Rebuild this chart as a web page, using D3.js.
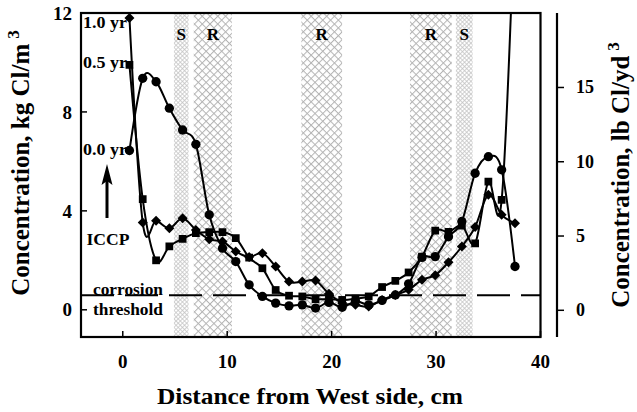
<!DOCTYPE html>
<html>
<head>
<meta charset="utf-8">
<script src="https://cdn.jsdelivr.net/npm/d3@7"></script>
<style>
  body { margin: 0; background: #fff; }
  text { font-family: "Liberation Serif", "Times New Roman", serif; font-weight: bold; fill: #000; }
</style>
</head>
<body>
<div id="grafico"></div>
<script>
// distance from west side (cm) and chloride concentration (kg Cl/m3)
const distance = [0.64, 1.91, 3.19, 4.46, 5.73, 7.00, 8.28, 9.55, 10.82, 12.10, 13.37, 14.64, 15.92, 17.19, 18.46,
                  19.74, 21.01, 22.28, 23.55, 24.83, 26.10, 27.37, 28.65, 29.92, 31.19, 32.47, 33.74, 35.01, 36.28, 37.56];
const conc00 = [6.44, 9.36, 9.22, 8.15, 7.27, 6.69, 3.84, 2.49, 1.95, 1.01, 0.54, 0.27, 0.16, 0.20, 0.07,
                0.30, 0.10, 0.35, 0.20, 0.38, 0.60, 1.05, 2.12, 2.15, 2.95, 3.57, 5.52, 6.19, 5.66, 1.75];
const conc05 = [9.90, 4.47, 2.00, 2.56, 2.87, 3.10, 3.14, 3.14, 2.90, 2.11, 1.68, 0.80, 0.57, 0.54, 0.43,
                0.43, 0.40, 0.45, 0.54, 0.92, 1.17, 1.51, 2.15, 3.20, 3.15, 3.40, 2.69, 5.18, 4.44, 16.5];
const conc10 = [11.8, 3.53, 3.60, 3.30, 3.70, 3.23, 2.85, 2.76, 2.36, 2.13, 2.29, 1.75, 1.14, 1.14, 1.18,
                0.65, 0.27, 0.20, 0.13, 0.40, 0.60, 0.81, 1.21, 1.40, 1.92, 2.56, 3.35, 4.65, 3.84, 3.50];
const seriesLabels = ["0.0 yr", "0.5 yr", "1.0 yr"];

// saw-cut (S) and reinforcement (R) zones, cm
const zoneLabels = ["S", "R", "R", "R", "S"];
const zoneStart = [4.9, 6.8, 17.1, 27.5, 31.9];
const zoneEnd = [6.3, 10.45, 21.0, 31.5, 33.5];

const threshold = 0.59;
const xTicks = [0, 10, 20, 30, 40];
const leftTicks = [0, 4, 8, 12];
const rightTicks = [0, 5, 10, 15];
const lbFactor = 1.665;

const width = 637, height = 412;
const svg = d3.select("#grafico").append("svg")
    .attr("width", width)
    .attr("height", height);

const x = d3.scaleLinear().domain([-4, 40]).range([81, 540.5]);
const y = d3.scaleLinear().domain([-1.1, 12]).range([337, 13]);
const yRight = d3.scaleLinear().domain([-1.1 * lbFactor, 12 * lbFactor]).range([337, 13]);

const defs = svg.append("defs");
function hatch(id, size, color, sw) {
    const p = defs.append("pattern")
        .attr("id", id)
        .attr("width", size).attr("height", size)
        .attr("patternUnits", "userSpaceOnUse")
        .attr("patternTransform", "rotate(45)");
    p.append("rect").attr("width", size).attr("height", size).attr("fill", "#fff");
    p.append("line").attr("x1", 0).attr("y1", 0).attr("x2", size).attr("y2", 0)
        .attr("stroke", color).attr("stroke-width", sw);
    p.append("line").attr("x1", 0).attr("y1", 0).attr("x2", 0).attr("y2", size)
        .attr("stroke", color).attr("stroke-width", sw);
}
hatch("hatchR", 5.5, "#b4b4b4", 2);
hatch("hatchS", 3, "#c4c4c4", 1.5);

defs.append("clipPath").attr("id", "plotClip")
    .append("rect")
    .attr("x", x.range()[0]).attr("y", y.range()[1])
    .attr("width", x.range()[1] - x.range()[0])
    .attr("height", y.range()[0] - y.range()[1]);

// zones
svg.selectAll(".zone")
    .data(zoneLabels)
    .enter()
    .append("rect")
    .attr("class", "zone")
    .attr("x", (d, i) => x(zoneStart[i]))
    .attr("y", y.range()[1])
    .attr("width", (d, i) => x(zoneEnd[i]) - x(zoneStart[i]))
    .attr("height", y.range()[0] - y.range()[1])
    .attr("fill", d => d === "S" ? "url(#hatchS)" : "url(#hatchR)");

svg.selectAll(".zone-label")
    .data(zoneLabels)
    .enter()
    .append("text")
    .attr("x", (d, i) => x((zoneStart[i] + zoneEnd[i]) / 2))
    .attr("y", 40)
    .attr("text-anchor", "middle")
    .attr("font-size", "17px")
    .text(d => d);

// corrosion threshold
svg.append("line")
    .attr("x1", x.range()[0]).attr("x2", x.range()[1])
    .attr("y1", y(threshold)).attr("y2", y(threshold))
    .attr("stroke", "#000")
    .attr("stroke-width", 2)
    .attr("stroke-dasharray", "33,11");

// series
const line = d3.line()
    .x(d => x(d[0]))
    .y(d => y(d[1]))
    .curve(d3.curveCatmullRom.alpha(0));

const allSeries = [conc00, conc05, conc10];
const symbols = [d3.symbolCircle, d3.symbolSquare, d3.symbolSquare];
const symSizes = [68, 60, 50];

const plot = svg.append("g").attr("clip-path", "url(#plotClip)");
allSeries.forEach((vals, k) => {
    const pts = distance.map((d, i) => [d, vals[i]]);
    plot.append("path")
        .datum(pts)
        .attr("fill", "none")
        .attr("stroke", "#000")
        .attr("stroke-width", 2)
        .attr("d", line);
    plot.selectAll(".m" + k)
        .data(pts)
        .enter()
        .append("path")
        .attr("class", "m" + k)
        .attr("d", d3.symbol().type(symbols[k]).size(symSizes[k]))
        .attr("transform", d => `translate(${x(d[0])},${y(d[1])})` + (k === 2 ? " rotate(45)" : ""))
        .attr("fill", "#000");
});

// frame
svg.append("rect")
    .attr("x", x.range()[0]).attr("y", y.range()[1])
    .attr("width", x.range()[1] - x.range()[0])
    .attr("height", y.range()[0] - y.range()[1])
    .attr("fill", "none")
    .attr("stroke", "#000")
    .attr("stroke-width", 2.2);

// bottom axis (ticks inside)
const xAxis = svg.append("g");
xAxis.selectAll("line")
    .data(xTicks)
    .enter()
    .append("line")
    .attr("x1", d => x(d)).attr("x2", d => x(d))
    .attr("y1", 337).attr("y2", 331)
    .attr("stroke", "#000").attr("stroke-width", 1.5);
xAxis.selectAll("text")
    .data(xTicks)
    .enter()
    .append("text")
    .attr("x", d => x(d))
    .attr("y", 368)
    .attr("text-anchor", "middle")
    .attr("font-size", "19px")
    .text(d => d);

// left axis
const yAxis = svg.append("g");
yAxis.selectAll("line")
    .data(leftTicks)
    .enter()
    .append("line")
    .attr("x1", 81).attr("x2", 87)
    .attr("y1", d => y(d)).attr("y2", d => y(d))
    .attr("stroke", "#000").attr("stroke-width", 1.5);
yAxis.selectAll("text")
    .data(leftTicks)
    .enter()
    .append("text")
    .attr("x", 72)
    .attr("y", d => y(d))
    .attr("dy", "0.35em")
    .attr("text-anchor", "end")
    .attr("font-size", "19px")
    .text(d => d);

// right axis, lb Cl/yd3
svg.append("g")
    .attr("transform", "translate(557,0)")
    .call(d3.axisRight(yRight).tickValues(rightTicks).tickSize(7).tickPadding(12))
    .call(g => g.select(".domain").attr("d", `M0,${yRight.range()[1]}V${yRight.range()[0]}`).attr("stroke-width", 2.2))
    .call(g => g.selectAll(".tick line").attr("stroke-width", 1.5))
    .call(g => g.selectAll(".tick text")
        .attr("font-size", "18px")
        .attr("fill", "#000"))
    .attr("font-family", null);

// axis titles
const leftTitle = svg.append("text")
    .attr("transform", "translate(29,163) rotate(-90)")
    .attr("text-anchor", "middle")
    .attr("font-size", "25px");
leftTitle.append("tspan").text("Concentration, kg Cl/m");
leftTitle.append("tspan").attr("dx", 5).attr("dy", -10).attr("font-size", "17px").text("3");

const rightTitle = svg.append("text")
    .attr("transform", "translate(629,175) rotate(-90)")
    .attr("text-anchor", "middle")
    .attr("font-size", "25px");
rightTitle.append("tspan").text("Concentration, lb Cl/yd");
rightTitle.append("tspan").attr("dx", 5).attr("dy", -10).attr("font-size", "17px").text("3");

svg.append("text")
    .attr("x", 310)
    .attr("y", 404)
    .attr("text-anchor", "middle")
    .attr("font-size", "24px")
    .attr("textLength", 306)
    .attr("lengthAdjust", "spacingAndGlyphs")
    .text("Distance from West side, cm");

// annotations
const labelBase = [155, 68, 28];
seriesLabels.forEach((s, i) => {
    svg.append("text")
        .attr("x", 83)
        .attr("y", labelBase[i])
        .attr("font-size", "16px")
        .attr("textLength", 44)
        .attr("lengthAdjust", "spacingAndGlyphs")
        .text(s);
});

svg.append("line")
    .attr("x1", 107).attr("x2", 107)
    .attr("y1", 218).attr("y2", 178)
    .attr("stroke", "#000").attr("stroke-width", 3);
svg.append("path")
    .attr("d", "M107,164 L101.5,185 L107,181 L112.5,185 Z")
    .attr("fill", "#000");
svg.append("text")
    .attr("x", 108).attr("y", 245)
    .attr("text-anchor", "middle")
    .attr("font-size", "17px")
    .attr("textLength", 43)
    .attr("lengthAdjust", "spacingAndGlyphs")
    .text("ICCP");

svg.append("text")
    .attr("x", 93).attr("y", 295)
    .attr("font-size", "17px")
    .attr("textLength", 70)
    .attr("lengthAdjust", "spacingAndGlyphs")
    .text("corrosion");
svg.append("text")
    .attr("x", 93).attr("y", 315)
    .attr("font-size", "17px")
    .attr("textLength", 70)
    .attr("lengthAdjust", "spacingAndGlyphs")
    .text("threshold");
</script>
</body>
</html>
